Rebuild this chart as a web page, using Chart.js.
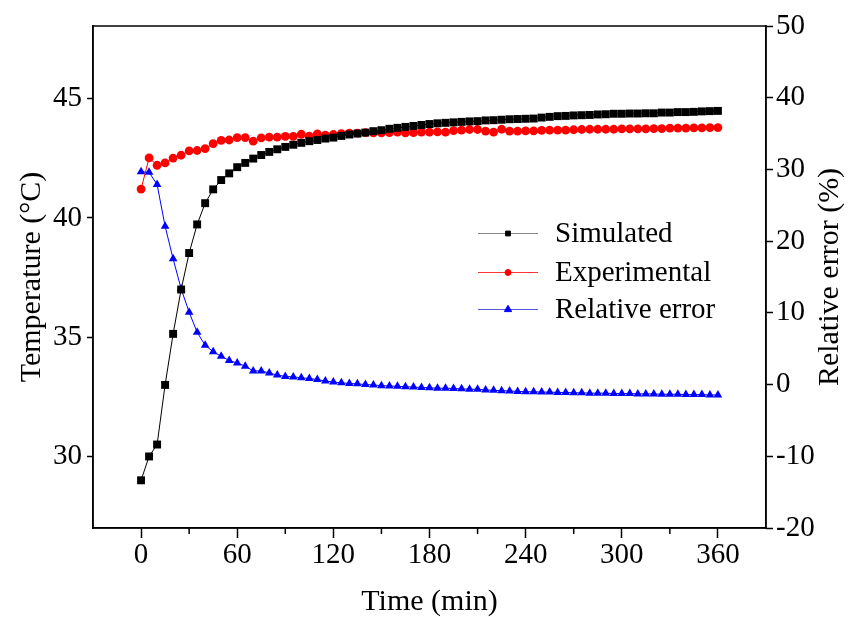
<!DOCTYPE html>
<html>
<head>
<meta charset="utf-8">
<script src="https://cdn.jsdelivr.net/npm/chart.js@4.4.1/dist/chart.umd.min.js"></script>
<style>
  body { margin: 0; background: #fff; }
</style>
</head>
<body>
<canvas id="chart" width="856" height="617"></canvas>
<script>
// time axis, one sample every 5 minutes
const timeMin = [0, 5, 10, 15, 20, 25, 30, 35, 40, 45, 50, 55, 60, 65, 70, 75, 80, 85, 90, 95,
  100, 105, 110, 115, 120, 125, 130, 135, 140, 145, 150, 155, 160, 165, 170, 175, 180, 185, 190, 195,
  200, 205, 210, 215, 220, 225, 230, 235, 240, 245, 250, 255, 260, 265, 270, 275, 280, 285, 290, 295,
  300, 305, 310, 315, 320, 325, 330, 335, 340, 345, 350, 355, 360]

const simulated = [29.0, 30.0, 30.5, 33.0, 35.14, 37.0, 38.53, 39.73, 40.62, 41.2, 41.59, 41.87, 42.13, 42.31, 42.49, 42.64, 42.77, 42.88, 42.98, 43.07,
  43.15, 43.22, 43.27, 43.33, 43.37, 43.44, 43.5, 43.54, 43.58, 43.64, 43.68, 43.74, 43.78, 43.82, 43.86, 43.9, 43.94, 43.97, 43.99, 44.01,
  44.03, 44.05, 44.06, 44.09, 44.1, 44.12, 44.14, 44.15, 44.16, 44.17, 44.21, 44.24, 44.27, 44.28, 44.3, 44.31, 44.32, 44.34, 44.35, 44.37,
  44.37, 44.38, 44.38, 44.39, 44.39, 44.42, 44.42, 44.44, 44.44, 44.45, 44.47, 44.48, 44.49]

const experimental = [41.21, 42.52, 42.21, 42.31, 42.51, 42.63, 42.81, 42.83, 42.91, 43.12, 43.25, 43.27, 43.37, 43.37, 43.22, 43.36, 43.39, 43.39, 43.42, 43.42,
  43.51, 43.43, 43.53, 43.47, 43.5, 43.54, 43.56, 43.56, 43.58, 43.57, 43.57, 43.58, 43.6, 43.57, 43.58, 43.6, 43.6, 43.61, 43.6, 43.66,
  43.68, 43.71, 43.71, 43.64, 43.6, 43.72, 43.64, 43.64, 43.65, 43.65, 43.67, 43.68, 43.68, 43.68, 43.7, 43.71, 43.72, 43.72, 43.72, 43.72,
  43.74, 43.74, 43.74, 43.74, 43.75, 43.75, 43.77, 43.77, 43.77, 43.78, 43.78, 43.79, 43.79]

const relError = [29.66, 29.6, 27.9, 22.08, 17.53, 13.35, 10.09, 7.29, 5.48, 4.58, 3.95, 3.35, 3.01, 2.57, 1.9, 1.9, 1.62, 1.32, 1.14, 1.07,
  0.95, 0.85, 0.7, 0.5, 0.35, 0.25, 0.15, 0.1, 0.0, -0.05, -0.15, -0.2, -0.25, -0.3, -0.35, -0.4, -0.45, -0.5, -0.5, -0.55,
  -0.6, -0.65, -0.65, -0.75, -0.8, -0.85, -0.9, -0.95, -1.0, -1.0, -1.05, -1.05, -1.1, -1.1, -1.15, -1.15, -1.2, -1.2, -1.2, -1.25,
  -1.25, -1.25, -1.3, -1.3, -1.3, -1.35, -1.35, -1.35, -1.4, -1.4, -1.4, -1.45, -1.45]

const xTicks = [0, 60, 120, 180, 240, 300, 360]
const xMinorTicks = [30, 90, 150, 210, 270, 330]
const tempTicks = [30, 35, 40, 45]
const errTicks = [-20, -10, 0, 10, 20, 30, 40, 50]

const FONT = '"Liberation Serif", "Times New Roman", serif'

const toPoints = (vals) => vals.map((v, i) => ({ x: timeMin[i], y: v }))
const fixTicks = (list) => (scale) => { scale.ticks = list.map(v => ({ value: v })) }

// frame, minor ticks, right title, legend
const extras = {
  id: 'extras',
  afterDraw(chart) {
    const ctx = chart.ctx
    const ca = chart.chartArea
    const x = chart.scales.x
    ctx.save()
    ctx.strokeStyle = '#000'
    ctx.lineWidth = 1.5
    ctx.strokeRect(ca.left, ca.top, ca.right - ca.left, ca.bottom - ca.top)

    xMinorTicks.forEach(v => {
      const px = x.getPixelForValue(v)
      ctx.beginPath()
      ctx.moveTo(px, ca.bottom)
      ctx.lineTo(px, ca.bottom + 6)
      ctx.stroke()
    })

    // right axis title reads bottom-to-top like the left one
    ctx.fillStyle = '#000'
    ctx.font = '30px ' + FONT
    ctx.textAlign = 'center'
    ctx.textBaseline = 'middle'
    ctx.translate(830, (ca.top + ca.bottom) / 2)
    ctx.rotate(-Math.PI / 2)
    ctx.fillText('Relative error (%)', 0, 0)
    ctx.restore()

    // legend
    ctx.save()
    const lx0 = ca.left + 385, lx1 = ca.left + 445, tx = ca.left + 462
    const rows = [ca.top + 207, ca.top + 246, ca.top + 283]
    const legendRadius = [3.4, 3, 4.2]
    const legendLine = ['#888888', '#ff3333', '#5555dd']
    chart.data.datasets.forEach((ds, i) => {
      const y = rows[i]
      ctx.strokeStyle = legendLine[i]
      ctx.lineWidth = 1
      ctx.beginPath()
      ctx.moveTo(lx0, y + 0.5)
      ctx.lineTo(lx1, y + 0.5)
      ctx.stroke()
      ctx.fillStyle = ds.pointBackgroundColor
      ctx.strokeStyle = ds.pointBackgroundColor
      Chart.helpers.drawPoint(ctx, { pointStyle: ds.pointStyle, radius: legendRadius[i], rotation: 0, borderWidth: 1 }, (lx0 + lx1) / 2, y + 0.5)
      ctx.fillStyle = '#000'
      ctx.font = '29px ' + FONT
      ctx.textAlign = 'left'
      ctx.textBaseline = 'middle'
      ctx.fillText(ds.label, tx, y + 1)
    })
    ctx.restore()
  }
}

new Chart(document.getElementById('chart'), {
  type: 'scatter',
  data: {
    datasets: [
      {
        label: 'Simulated',
        data: toPoints(simulated),
        showLine: true,
        borderColor: '#000',
        borderWidth: 1,
        pointStyle: 'rect',
        pointRadius: 5.6,
        pointBackgroundColor: '#000',
        pointBorderColor: '#000',
        pointBorderWidth: 0,
        yAxisID: 'y'
      },
      {
        label: 'Experimental',
        data: toPoints(experimental),
        showLine: true,
        borderColor: '#ff0000',
        borderWidth: 1,
        pointStyle: 'circle',
        pointRadius: 4.4,
        pointBackgroundColor: '#ff0000',
        pointBorderColor: '#ff0000',
        pointBorderWidth: 0,
        yAxisID: 'y'
      },
      {
        label: 'Relative error',
        data: toPoints(relError),
        showLine: true,
        borderColor: '#0000ff',
        borderWidth: 1,
        pointStyle: 'triangle',
        pointRadius: 5,
        pointBackgroundColor: '#0000ff',
        pointBorderColor: '#0000ff',
        pointBorderWidth: 0,
        yAxisID: 'y2'
      }
    ]
  },
  options: {
    responsive: false,
    animation: false,
    layout: { padding: { top: 26, left: 0, right: 0, bottom: 0 } },
    plugins: {
      legend: { display: false },
      tooltip: { enabled: false }
    },
    scales: {
      x: {
        type: 'linear',
        min: -30,
        max: 390,
        afterBuildTicks: fixTicks(xTicks),
        afterFit: (s) => { s.height = 89 },
        grid: { drawOnChartArea: false, drawTicks: true, tickLength: 10, tickColor: '#000', tickWidth: 1.5 },
        border: { display: true, color: '#000', width: 1.5 },
        ticks: { color: '#000', padding: 0, maxRotation: 0, font: { family: FONT, size: 29 } },
        title: { display: true, text: 'Time (min)', color: '#000', padding: { top: 0, bottom: 0 }, font: { family: FONT, size: 30, lineHeight: 1 } }
      },
      y: {
        position: 'left',
        min: 27,
        max: 48.05,
        afterBuildTicks: fixTicks(tempTicks),
        afterFit: (s) => { s.width = 93 },
        grid: { drawOnChartArea: false, drawTicks: true, tickLength: 6, tickColor: '#000', tickWidth: 1.5 },
        border: { display: true, color: '#000', width: 1.5 },
        ticks: { color: '#000', padding: 5, font: { family: FONT, size: 29 } },
        title: { display: true, text: 'Temperature (\u00B0C)', color: '#000', padding: { top: 17, bottom: 0 }, font: { family: FONT, size: 30, lineHeight: 1 } }
      },
      y2: {
        position: 'right',
        min: -20,
        max: 50,
        afterBuildTicks: fixTicks(errTicks),
        afterFit: (s) => { s.width = 90 },
        grid: { drawOnChartArea: false, drawTicks: true, tickLength: 7, tickColor: '#000', tickWidth: 1.5 },
        border: { display: true, color: '#000', width: 1.5 },
        ticks: { color: '#000', padding: 3, font: { family: FONT, size: 29 } }
      }
    }
  },
  plugins: [extras]
})
</script>
</body>
</html>
